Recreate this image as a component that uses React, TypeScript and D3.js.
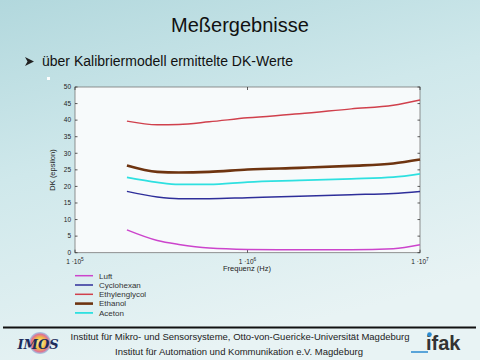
import React from "react";
import * as d3 from "d3";

const freqs = [2e5, 3e5, 4e5, 6e5, 1e6, 2e6, 4e6, 7e6, 1e7];
const seriesNames = ["Luft", "Cyclohexan", "Ethylenglycol", "Ethanol", "Aceton"];
const luft = [6.9, 3.7, 2.5, 1.4, 1.0, 0.9, 0.9, 1.2, 2.4];
const cyclohexan = [18.5, 16.8, 16.3, 16.3, 16.6, 17.0, 17.5, 17.9, 18.5];
const ethylenglycol = [39.7, 38.6, 38.7, 39.5, 40.7, 41.9, 43.4, 44.5, 46.1];
const ethanol = [26.3, 24.4, 24.2, 24.4, 25.1, 25.6, 26.2, 26.9, 28.1];
const aceton = [22.7, 21.2, 20.6, 20.6, 21.3, 21.8, 22.3, 22.8, 23.8];
const seriesColors = ["#cc44cc", "#2e2e9a", "#d0404c", "#6e3410", "#2ee0e0"];
const seriesWidths = [1.5, 1.5, 1.5, 2.6, 1.8];
const yTicks = [0, 5, 10, 15, 20, 25, 30, 35, 40, 45, 50];
const xTickExps = [5, 6, 7];

const seriesValues = [luft, cyclohexan, ethylenglycol, ethanol, aceton];

export default function App() {
  const left = 75, right = 420, top = 87, bottom = 252.7;
  const x = d3.scaleLog().domain([1e5, 1e7]).range([left, right]);
  const y = d3.scaleLinear().domain([0, 50]).range([bottom, top]);
  const line = d3
    .line<number>()
    .x((_, i) => x(freqs[i]))
    .y((d) => y(d))
    .curve(d3.curveMonotoneX);
  const font = "'Liberation Sans', Arial, sans-serif";

  return (
    <svg
      width={480}
      height={360}
      style={{ position: "absolute", left: 0, top: 0 }}
      fontFamily={font}
    >
      <defs>
        <linearGradient id="bg" x1="0" y1="0" x2="0.35" y2="1">
          <stop offset="0" stopColor="#b2d8dd" />
          <stop offset="0.45" stopColor="#cfe8eb" />
          <stop offset="1" stopColor="#e8f3f4" />
        </linearGradient>
        <radialGradient id="imos" cx="0.5" cy="0.5" r="0.5">
          <stop offset="0" stopColor="#fff6c0" />
          <stop offset="0.5" stopColor="#f0c040" />
          <stop offset="0.8" stopColor="#e07090" />
          <stop offset="1" stopColor="#80b0e0" stopOpacity="0.6" />
        </radialGradient>
      </defs>
      <rect x={0} y={0} width={480} height={360} fill="url(#bg)" />

      {/* Title */}
      <text x={240} y={32} textAnchor="middle" fontSize={20} fill="#111">
        Meßergebnisse
      </text>
      {/* Bullet */}
      <path d="M25,57 L34,61.5 L25,66 L27.5,61.5 Z" fill="#222" />
      <text x={42} y={66} fontSize={14} fill="#111">
        über Kalibriermodell ermittelte DK-Werte
      </text>
      <rect x={47} y={77} width={3} height={3} fill="#ffffff" />

      {/* Plot area */}
      <rect
        x={left}
        y={top}
        width={right - left}
        height={bottom - top}
        fill="#f7fafb"
        stroke="#777"
        strokeWidth={0.8}
      />
      {yTicks.map((t) => (
        <g key={"y" + t}>
          <line x1={left} x2={left + 2.5} y1={y(t)} y2={y(t)} stroke="#333" strokeWidth={0.8} />
          <line x1={right - 2.5} x2={right} y1={y(t)} y2={y(t)} stroke="#333" strokeWidth={0.8} />
          <text x={71} y={y(t) + 2.3} fontSize={6.5} textAnchor="end" fill="#222">
            {t}
          </text>
        </g>
      ))}
      {xTickExps.map((e) => (
        <g key={"x" + e}>
          <line x1={x(10 ** e)} x2={x(10 ** e)} y1={bottom} y2={bottom - 3} stroke="#333" strokeWidth={0.8} />
          <line x1={x(10 ** e)} x2={x(10 ** e)} y1={top} y2={top + 3} stroke="#333" strokeWidth={0.8} />
          <text x={x(10 ** e)} y={264} fontSize={6.5} textAnchor="middle" fill="#222">
            1 ·10
            <tspan dy={-3} fontSize={4.8}>
              {e}
            </tspan>
          </text>
        </g>
      ))}
      <text x={247} y={271} fontSize={7.5} textAnchor="middle" fill="#222">
        Frequenz (Hz)
      </text>
      <text
        transform="translate(54.5,170) rotate(-90)"
        fontSize={7.5}
        textAnchor="middle"
        fill="#222"
      >
        DK (epsilon)
      </text>

      {seriesValues.map((vals, i) => (
        <path
          key={seriesNames[i]}
          d={line(vals) || ""}
          fill="none"
          stroke={seriesColors[i]}
          strokeWidth={seriesWidths[i]}
        />
      ))}

      {/* Legend */}
      {seriesNames.map((n, i) => (
        <g key={"lg" + n}>
          <line
            x1={75}
            x2={93}
            y1={275.7 + i * 9.3}
            y2={275.7 + i * 9.3}
            stroke={seriesColors[i]}
            strokeWidth={seriesWidths[i]}
          />
          <text x={99} y={278.5 + i * 9.3} fontSize={8} fill="#333">
            {n}
          </text>
        </g>
      ))}

      {/* Footer */}
      <line x1={3} x2={476} y1={327.5} y2={327.5} stroke="#111" strokeWidth={2} />
      <circle cx={40} cy={343} r={11} fill="url(#imos)" />
      <text
        x={38}
        y={348.5}
        fontSize={13}
        fontWeight="bold"
        fontStyle="italic"
        textAnchor="middle"
        fill="#1c2c5c"
        fontFamily="'DejaVu Serif', serif"
      >
        IMOS
      </text>
      <text x={240} y={340} fontSize={9.5} textAnchor="middle" fill="#222">
        Institut für Mikro- und Sensorsysteme, Otto-von-Guericke-Universität Magdeburg
      </text>
      <text x={239} y={355} fontSize={9.5} textAnchor="middle" fill="#222">
        Institut für Automation und Kommunikation e.V. Magdeburg
      </text>
      <line x1={411} x2={428} y1={352} y2={352} stroke="#2a8ad0" strokeWidth={1.5} />
      <text x={426} y={350} fontSize={20} fontWeight="bold" fill="#333">
        ifak
      </text>
      <circle cx={429.5} cy={334.5} r={2.3} fill="#2a8ad0" />
    </svg>
  );
}
